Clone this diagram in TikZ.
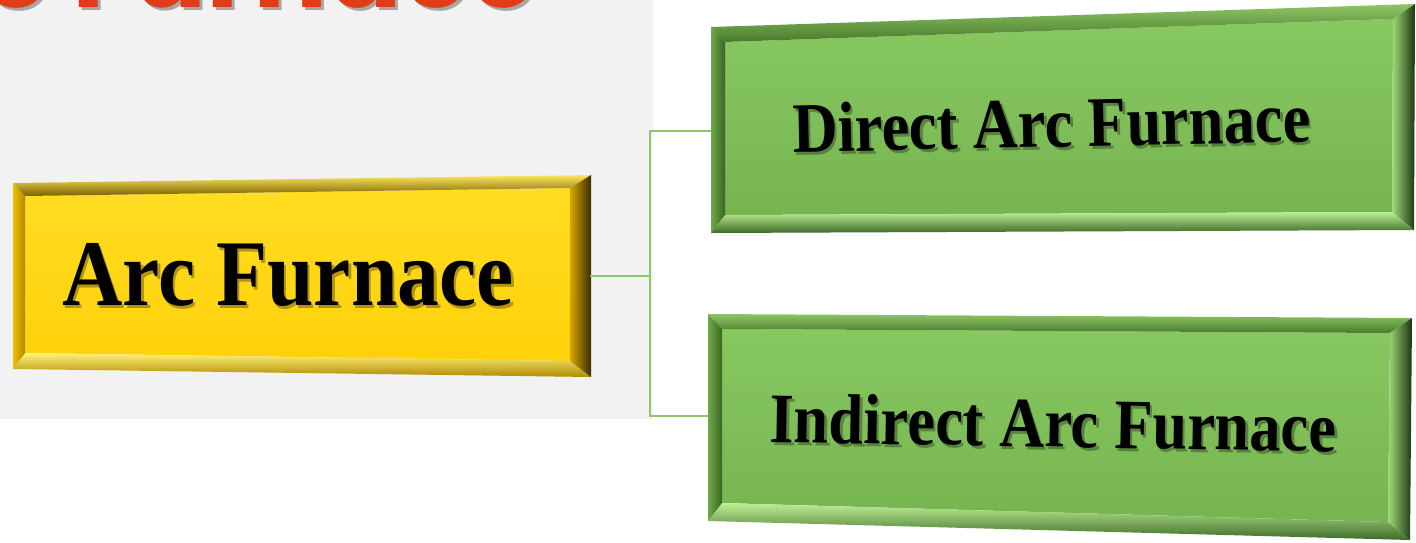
\documentclass[tikz,border=0pt]{standalone}
\usepackage{fontspec}
\setmainfont{Liberation Serif}
\newfontfamily\titlefont{Poppins}
\usetikzlibrary{calc}
\definecolor{bggray}{HTML}{F2F2F2}
\definecolor{connG}{HTML}{8CC86A}
\definecolor{titleRed}{HTML}{E23B17}
\newcommand\yfont{\fontsize{94}{100}\selectfont\bfseries}
\newcommand\gfont{\fontsize{71}{76}\selectfont\bfseries}
\newcommand\tfont{\titlefont\bfseries\fontsize{110}{110}\selectfont}
\newcommand\drawbevel[2]{%
  \path[#2face] (#1itl) -- (#1itr) -- (#1ibr) -- (#1ibl) -- cycle;
  \path[#2top]   (#1TL) -- (#1TR) -- (#1itr) -- (#1itl) -- cycle;
  \path[#2bot]   (#1BL) -- (#1BR) -- (#1ibr) -- (#1ibl) -- cycle;
  \path[#2left]  (#1TL) -- (#1BL) -- (#1ibl) -- (#1itl) -- cycle;
  \path[#2right] (#1TR) -- (#1BR) -- (#1ibr) -- (#1itr) -- cycle;
}
\tikzset{
  conn/.style={draw=connG, line width=2pt},
  lbl/.style={inner sep=0pt, anchor=base, text=black},
  shd/.style={inner sep=0pt, anchor=base, text=black, opacity=0.3},
  yface/.style={top color={rgb,255:red,255;green,221;blue,34}, bottom color={rgb,255:red,255;green,209;blue,10}},
  ytop/.style={top color={rgb,255:red,255;green,232;blue,96}, middle color={rgb,255:red,224;green,176;blue,0}, bottom color={rgb,255:red,122;green,96;blue,0}},
  ybot/.style={top color={rgb,255:red,255;green,242;blue,122}, middle color={rgb,255:red,240;green,196;blue,0}, bottom color={rgb,255:red,176;green,138;blue,0}},
  yleft/.style={left color={rgb,255:red,240;green,192;blue,0}, right color={rgb,255:red,176;green,136;blue,0}},
  yright/.style={left color={rgb,255:red,217;green,168;blue,0}, middle color={rgb,255:red,79;green,61;blue,5}, right color={rgb,255:red,58;green,44;blue,0}},
  gface/.style={top color={rgb,255:red,136;green,200;blue,96}, bottom color={rgb,255:red,118;green,180;blue,80}},
  gtop/.style={top color={rgb,255:red,140;green,198;blue,100}, middle color={rgb,255:red,180;green,232;blue,140}, bottom color={rgb,255:red,74;green,122;blue,44}},
  gbot/.style={top color={rgb,255:red,188;green,240;blue,148}, middle color={rgb,255:red,120;green,180;blue,80}, bottom color={rgb,255:red,62;green,106;blue,40}},
  gleft/.style={left color={rgb,255:red,110;green,170;blue,72}, right color={rgb,255:red,60;green,100;blue,36}},
  gright/.style={left color={rgb,255:red,160;green,218;blue,120}, middle color={rgb,255:red,78;green,128;blue,48}, right color={rgb,255:red,28;green,52;blue,16}},
}
\begin{document}
\begin{tikzpicture}[x=1pt,y=-1pt]
\useasboundingbox (0,0) rectangle (1416,542);
\clip (0,0) rectangle (1416,542);
\fill[white] (0,0) rectangle (1416,542);
\fill[bggray] (0,0) rectangle (653,419);
% title (cut off at the top)
\node[inner sep=0pt, anchor=base east, text=black!70, opacity=0.45, font=\tfont] (titles) at (540,10) {Arc Furnace};
\node[inner sep=0pt, anchor=base east, text=titleRed, font=\tfont] (title) at (537,7) {Arc Furnace};
% yellow box
\coordinate (yTL) at (13,183);
\coordinate (yTR) at (591,175);
\coordinate (yBR) at (591,377);
\coordinate (yBL) at (13,369);
\coordinate (yitl) at ($(yTL)+(12,13)$);
\coordinate (yitr) at ($(yTR)+(-21,13)$);
\coordinate (yibr) at ($(yBR)+(-21,-16)$);
\coordinate (yibl) at ($(yBL)+(12,-16)$);
\drawbevel{y}{y}
% green box 1
\coordinate (aTL) at (711,27);
\coordinate (aTR) at (1415,4);
\coordinate (aBR) at (1414,230);
\coordinate (aBL) at (711,233);
\coordinate (aitl) at ($(aTL)+(14,15)$);
\coordinate (aitr) at ($(aTR)+(-22,15)$);
\coordinate (aibr) at ($(aBR)+(-22,-18)$);
\coordinate (aibl) at ($(aBL)+(14,-18)$);
\drawbevel{a}{g}
% green box 2
\coordinate (bTL) at (708,314);
\coordinate (bTR) at (1412,318);
\coordinate (bBR) at (1410,540);
\coordinate (bBL) at (708,521);
\coordinate (bitl) at ($(bTL)+(14,15)$);
\coordinate (bitr) at ($(bTR)+(-22,15)$);
\coordinate (bibr) at ($(bBR)+(-22,-18)$);
\coordinate (bibl) at ($(bBL)+(14,-18)$);
\drawbevel{b}{g}
% connectors
\coordinate (yR) at (590,276);
\coordinate (jn) at (650,276);
\coordinate (aL) at (711,131);
\coordinate (bL) at (708,416);
\draw[conn] (yR) -- (jn) |- (aL);
\draw[conn] (jn) |- (bL);
% labels
\node[shd, font=\yfont] (t1s) at (290.5,308) {\scalebox{0.89}[1]{Arc Furnace}};
\node[lbl, font=\yfont] (t1) at (288,305) {\scalebox{0.89}[1]{Arc Furnace}};
\node[shd, font=\gfont, rotate=1.2] (t2s) at (1054.5,150) {\scalebox{0.88}[1]{Direct Arc Furnace}};
\node[lbl, font=\gfont, rotate=1.2] (t2) at (1052,147) {\scalebox{0.88}[1]{Direct Arc Furnace}};
\node[shd, font=\gfont, rotate=-1] (t3s) at (1055.5,450) {\scalebox{0.88}[1]{Indirect Arc Furnace}};
\node[lbl, font=\gfont, rotate=-1] (t3) at (1053,447) {\scalebox{0.88}[1]{Indirect Arc Furnace}};
\end{tikzpicture}
\end{document}
